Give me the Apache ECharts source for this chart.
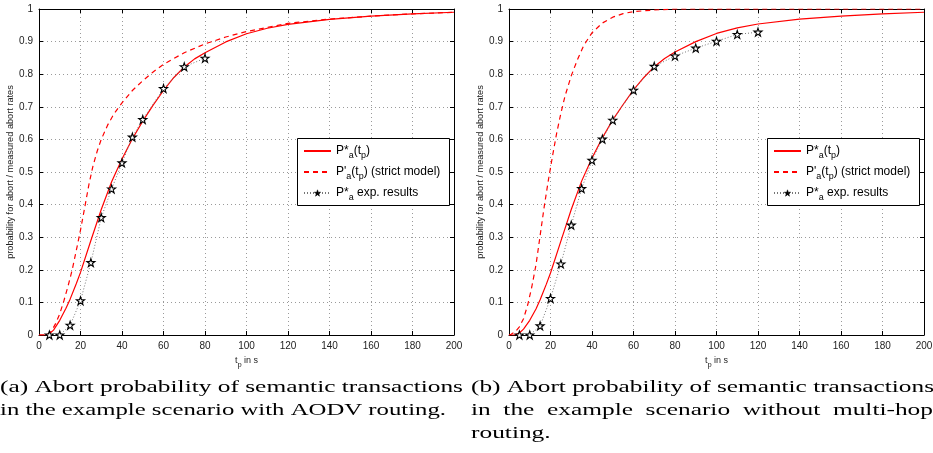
<!DOCTYPE html>
<html><head><meta charset="utf-8">
<script src="https://cdn.jsdelivr.net/npm/echarts@6.0.0/dist/echarts.min.js"></script>
<style>html,body{margin:0;padding:0;background:#fff;}#c{width:933px;height:453px;}</style>
</head><body><div id="c"></div>
<script>
// ---------- data ----------
const xRange = [0, 200], xStep = 20;
const yRange = [0, 1], yStep = 0.1;

const seriesNames = ["P*a(tp)", "P'a(tp) (strict model)", "P*a exp. results"];

// (a) AODV routing
const solidA = [[0,0],[3,0],[5,0.004],[7,0.015],[10,0.045],[13,0.082],[15,0.11],[18,0.158],[20,0.192],[25,0.29],[30,0.385],[35,0.47],[40,0.54],[45,0.602],[50,0.656],[55,0.705],[60,0.75],[65,0.79],[70,0.822],[75,0.847],[80,0.866],[90,0.899],[100,0.924],[110,0.941],[120,0.953],[140,0.968],[160,0.978],[180,0.985],[200,0.99]];
const dashedA = [[0,0],[4,0],[6,0.012],[8,0.035],[10,0.065],[12,0.105],[14,0.15],[16,0.2],[18,0.26],[20,0.322],[22,0.39],[24,0.46],[26,0.518],[28,0.563],[30,0.6],[33,0.643],[36,0.677],[40,0.712],[45,0.75],[50,0.78],[55,0.807],[60,0.83],[70,0.866],[80,0.893],[90,0.914],[100,0.931],[120,0.956],[140,0.969],[160,0.978],[180,0.985],[200,0.99]];
const expA = [[5,0],[10,0],[15,0.03],[20,0.105],[25,0.222],[30,0.36],[35,0.448],[40,0.528],[45,0.607],[50,0.661],[60,0.756],[70,0.823],[80,0.849]];

// (b) without multi-hop routing
const solidB = [[0,0],[2.5,0],[5,0.006],[7,0.018],[10,0.045],[13,0.08],[15,0.108],[18,0.156],[20,0.19],[25,0.288],[30,0.385],[35,0.472],[40,0.543],[45,0.605],[50,0.66],[55,0.707],[60,0.752],[65,0.79],[70,0.823],[75,0.848],[80,0.868],[90,0.9],[100,0.925],[110,0.942],[120,0.954],[140,0.969],[160,0.978],[180,0.985],[200,0.99]];
const dashedB = [[0,0],[1,0.002],[3,0.01],[5,0.025],[7,0.05],[9,0.092],[11,0.148],[13,0.215],[15,0.305],[17,0.395],[19,0.476],[21,0.55],[23,0.62],[25,0.68],[27,0.733],[30,0.795],[33,0.845],[36,0.888],[40,0.927],[45,0.957],[50,0.975],[55,0.986],[60,0.992],[70,0.997],[80,1],[200,1]];
const expB = [[5,0],[10,0],[15,0.028],[20,0.112],[25,0.218],[30,0.337],[35,0.449],[40,0.536],[45,0.601],[50,0.659],[60,0.751],[70,0.824],[80,0.856],[90,0.88],[100,0.901],[110,0.922],[120,0.929]];

const yTitle = "probability for abort / measured abort rates";
const captionA = ["(a) Abort probability of semantic transactions", "in the example scenario with AODV routing."];
const captionB = ["(b) Abort probability of semantic transactions", "in the example scenario without multi-hop", "routing."];

// ---------- layout ----------
const grids = [{left:39, top:9, width:415, height:326}, {left:509, top:9, width:415, height:326}];
const SANS = '"Liberation Sans", Arial, sans-serif';
const star = 'path://M50,2 L61.5,36 L97,36 L68.5,57.5 L79.5,92 L50,71 L20.5,92 L31.5,57.5 L3,36 L38.5,36 Z';

function xAx(g, pos){
  const main = pos === 'bottom';
  return {
    gridIndex:g, type:'value', min:xRange[0], max:xRange[1], interval:xStep, position:pos,
    axisLine:{show:true, onZero:false, lineStyle:{color:'#000', width:1}},
    axisTick:{show:true, inside:true, length:4, lineStyle:{color:'#000'}},
    axisLabel:{show:main, color:'#222', fontSize:10, fontFamily:SANS, margin:6, showMinLabel:true, showMaxLabel:true},
    splitLine:{show:main, lineStyle:{color:'#9a9a9a', width:1, type:[1,3]}},
    name: main ? '{t|t}{p|p}{r| in s}' : '', nameLocation:'middle', nameGap:10,
    nameTextStyle:{color:'#222', fontFamily:SANS, fontSize:9,
      rich:{t:{fontSize:9, fontFamily:SANS, color:'#222'}, p:{fontSize:7.5, fontFamily:SANS, color:'#222', padding:[9,0,0,0]}, r:{fontSize:9, fontFamily:SANS, color:'#222'}}}
  };
}
function yAx(g, pos){
  const main = pos === 'left';
  return {
    gridIndex:g, type:'value', min:yRange[0], max:yRange[1], interval:yStep, position:pos,
    axisLine:{show:true, onZero:false, lineStyle:{color:'#000', width:1}},
    axisTick:{show:true, inside:true, length:4, lineStyle:{color:'#000'}},
    axisLabel:{show:main, color:'#222', fontSize:10, fontFamily:SANS, margin:6, showMinLabel:true, showMaxLabel:true},
    splitLine:{show:main, lineStyle:{color:'#9a9a9a', width:1, type:[1,3]}},
    name: main ? yTitle : '', nameLocation:'middle', nameGap:22,
    nameTextStyle:{color:'#222', fontFamily:SANS, fontSize:9.2}
  };
}

function seriesFor(g, solid, dashed, exp){
  const xi = g*2, yi = g*2;
  return [
    {name:seriesNames[0], type:'line', xAxisIndex:xi, yAxisIndex:yi, data:solid, showSymbol:false, symbol:'none',
     smooth:false, lineStyle:{color:'#ff0000', width:1.2}, itemStyle:{color:'#ff0000'}, z:3},
    {name:seriesNames[1], type:'line', xAxisIndex:xi, yAxisIndex:yi, data:dashed, showSymbol:false, symbol:'none',
     smooth:false, lineStyle:{color:'#ff0000', width:1.2, type:[5,4]}, itemStyle:{color:'#ff0000'}, z:3},
    {name:seriesNames[2], type:'line', xAxisIndex:xi, yAxisIndex:yi, data:exp, symbol:star, symbolSize:8, showSymbol:true,
     lineStyle:{color:'#777', width:1, type:[1,2]}, itemStyle:{color:'#fff', borderColor:'#000', borderWidth:1.1}, z:4}
  ];
}

const legendRich = {
  n:{fontSize:12, fontFamily:SANS, color:'#000', lineHeight:14},
  s:{fontSize:9, fontFamily:SANS, color:'#000', lineHeight:9, padding:[10,0,0,0]}
};
const legendFmt = {};
legendFmt[seriesNames[0]] = '{n|P*}{s|a}{n|(t}{s|p}{n|)}';
legendFmt[seriesNames[1]] = "{n|P'}{s|a}{n|(t}{s|p}{n|) (strict model)}";
legendFmt[seriesNames[2]] = '{n|P*}{s|a}{n| exp. results}';

function legendAt(left, top){
  return {
    data:[
      {name:seriesNames[0], itemStyle:{opacity:0}},
      {name:seriesNames[1], itemStyle:{opacity:0}},
      {name:seriesNames[2], itemStyle:{color:'#000', borderColor:'#000', borderWidth:0.5}}
    ],
    orient:'vertical', left:left, top:top, padding:0, itemGap:2,
    itemWidth:27, itemHeight:8, z:101, selectedMode:false,
    formatter:n => legendFmt[n], textStyle:{fontSize:12, fontFamily:SANS, color:'#000', rich:legendRich}
  };
}

const chart = echarts.init(document.getElementById('c'), null, {renderer:'canvas'});

// captions: serif text, stretched horizontally to match the reference line widths
const CAP_FONT_SIZE = 17;
const capFont = CAP_FONT_SIZE + 'px "Liberation Serif", "Times New Roman", serif';
const ctx = document.createElement('canvas').getContext('2d');
ctx.font = capFont;
const wNat = t => ctx.measureText(t).width;
const capScale = 463 / wNat(captionA[0]);
const capY = [388, 411, 434];
const graphics = [];
function capText(txt, x, y, sc){
  graphics.push({type:'text', x:x, y:y, scaleX:sc, scaleY:1, z:50,
    style:{text:txt, font:capFont, fill:'#000', textVerticalAlign:'middle', verticalAlign:'middle', textAlign:'left', align:'left'}});
}
capText(captionA[0], 0, capY[0], capScale);
capText(captionA[1], 0, capY[1], 446 / wNat(captionA[1]));
capText(captionB[0], 471, capY[0], 463 / wNat(captionB[0]));
// justified line
(function(){
  const words = captionB[1].split(' ');
  const target = 462;
  const total = words.reduce((s,w)=>s + wNat(w)*capScale, 0);
  const gap = (target - total) / (words.length - 1);
  let x = 471;
  words.forEach(w => { capText(w, x, capY[1], capScale); x += wNat(w)*capScale + gap; });
})();
capText(captionB[2], 471, capY[2], capScale);

// legend boxes
[[297,138],[767,138]].forEach(p => {
  graphics.push({type:'rect', z:100, shape:{x:p[0]+0.5, y:p[1]+0.5, width:152, height:67},
    style:{fill:'#fff', stroke:'#000', lineWidth:1}});
});

const option = {
  animation:false,
  backgroundColor:'#fff',
  grid: grids.map(g => Object.assign({show:false, containLabel:false, outerBoundsMode:'none'}, g)),
  xAxis:[xAx(0,'bottom'), xAx(0,'top'), xAx(1,'bottom'), xAx(1,'top')],
  yAxis:[yAx(0,'left'), yAx(0,'right'), yAx(1,'left'), yAx(1,'right')],
  legend:[legendAt(303, 141.5), legendAt(773, 141.5)],
  series:[].concat(seriesFor(0, solidA, dashedA, expA), seriesFor(1, solidB, dashedB, expB)),
  graphic: graphics
};
chart.setOption(option);
</script></body></html>
